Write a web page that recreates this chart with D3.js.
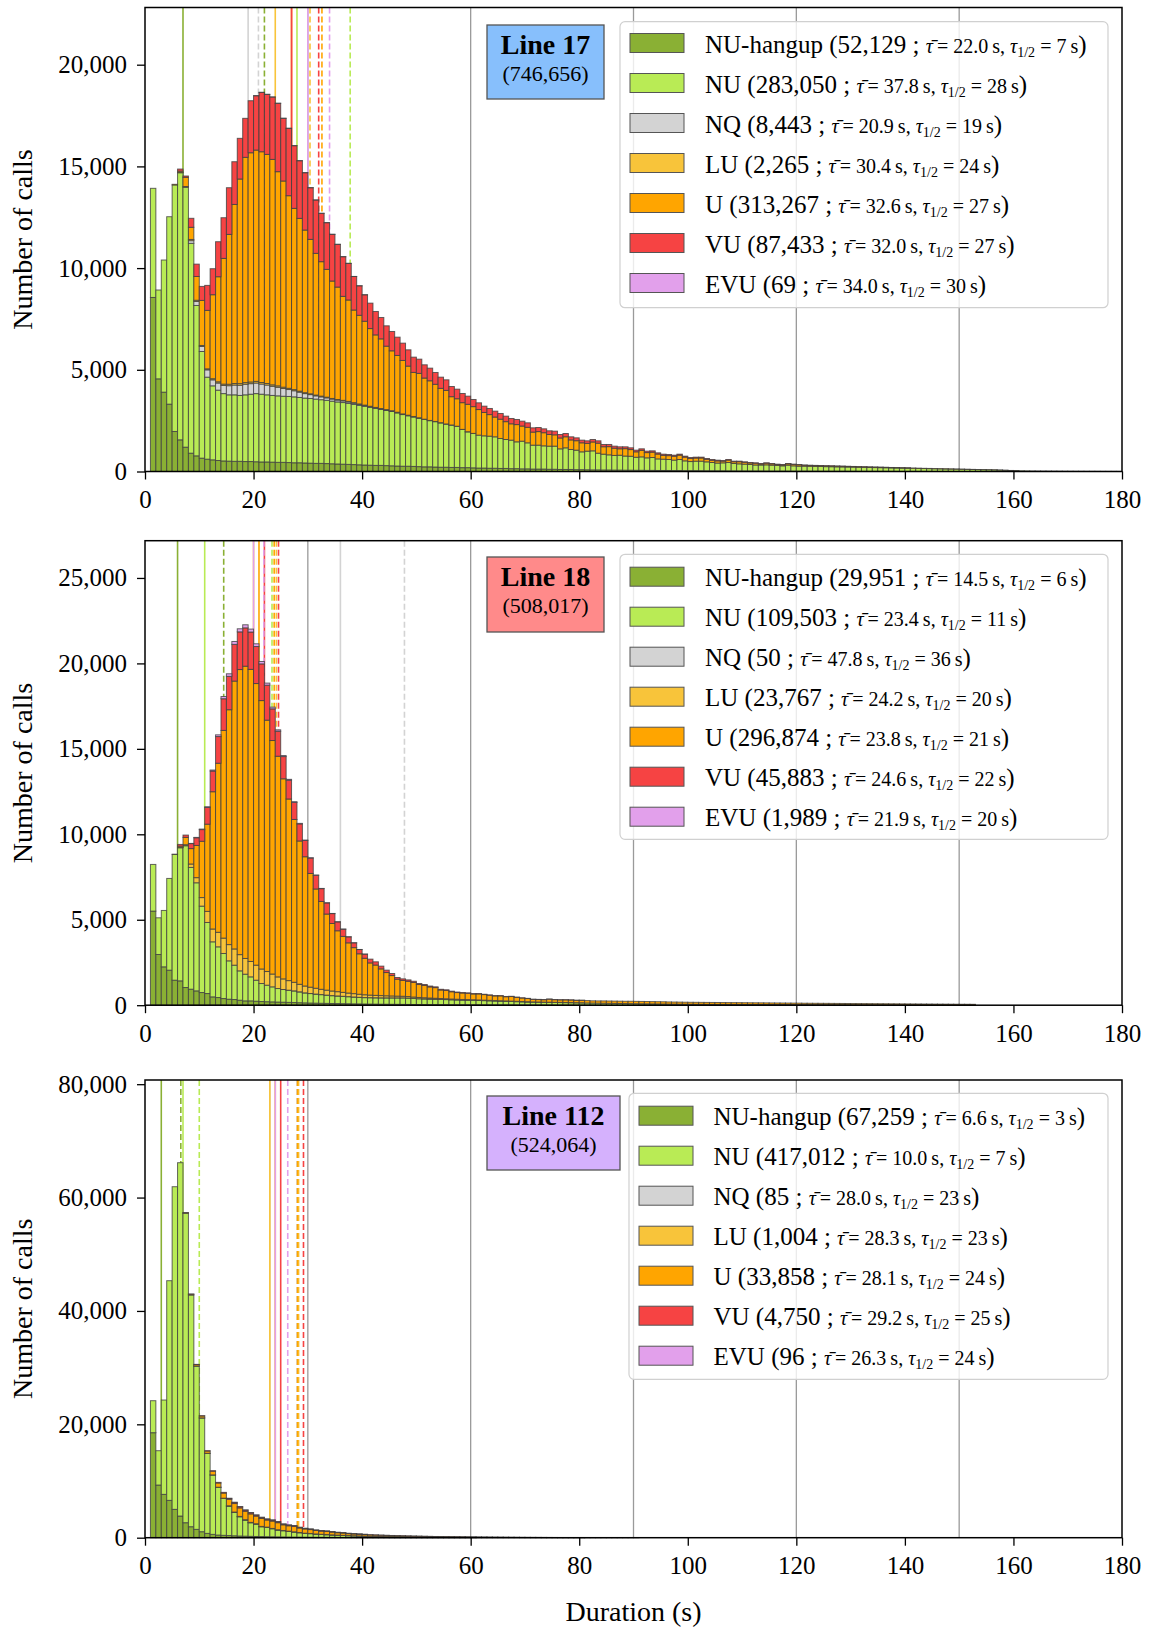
<!DOCTYPE html>
<html><head><meta charset="utf-8">
<script src="https://cdn.jsdelivr.net/npm/d3@7"></script>
<style>
body{margin:0;background:#fff}
svg{display:block}
text{font-family:"Liberation Serif","Times New Roman",serif;fill:#000}
</style>
</head><body>
<svg id="chart" width="1151" height="1630"></svg>
<script>
// ---------------- DATA ----------------
const categories = ["NU-hangup","NU","NQ","LU","U","VU","EVU"];
const seriesColors = ["#8ab034","#b9eb55","#d3d3d3","#f8c43a","#ffa500","#f64343","#e2a0eb"];
const firstBin = 1;               // first histogram bin is [1 s, 2 s)
const xTicks = [0,20,40,60,80,100,120,140,160,180];
const refLines = [30,60,90,120,150];
const lineNames = ["Line 17","Line 18","Line 112"];
const lineTotals = [746656,508017,524064];
const lineBoxColors = ["#87bffc","#ff8a8a","#d5b1fd"];

// Line 17
const l17_counts  = [52129,283050,8443,2265,313267,87433,69];
const l17_means   = [22.0,37.8,20.9,30.4,32.6,32.0,34.0];
const l17_medians = [7,28,19,24,27,27,30];
const l17_yticks  = [0,5000,10000,15000,20000];
const l17_hangup = [8556,4556,3900,3311,1967,1557,1196,901,770,656,606,574,541,520,510,500,500,490,490,480,
470,470,460,450,450,440,430,430,420,410,400,400,390,380,370,360,350,340,330,320,
310,300,300,290,280,270,260,260,250,240,230,230,220,210,210,200,200,190,190,180,
170,170,160,160,150,150,140,140,130,130,120,120,120,110,110,100,100,100,90,90,
85,80,80,75,75,70,70,65,65,60,60,55,55,50,50,50,45,45,40,40,
40,38,36,35,34,32,30,30,28,27,26,25,24,22,21,20,20,19,18,17,
17,16,15,14,14,13,12,12,11,10,9,9,8,8,7,7,6,6,5,5,
5,4,4,4,3,3,3,2,2,2];
const l17_nu = [5366,4367,6497,9215,12122,13132,12775,10317,7392,5244,4032,3638,3459,3310,3260,3270,3240,3280,3310,3350,
3330,3300,3280,3270,3250,3250,3240,3210,3190,3180,3160,3130,3110,3080,3050,3030,3000,2960,2920,2880,
2840,2800,2750,2710,2670,2610,2540,2480,2430,2380,2330,2270,2230,2180,2120,2080,2020,1875,1760,1688,
1617,1584,1577,1545,1473,1423,1401,1319,1361,1280,1175,1175,1142,1136,1136,1015,1064,982,959,877,
915,936,820,777,745,720,730,695,685,640,660,617,633,570,556,540,515,545,484,450,
468,470,439,408,381,394,413,363,349,334,318,295,296,306,290,275,259,292,261,245,
245,239,235,232,226,223,218,214,209,205,200,196,191,186,182,177,172,167,162,157,
152,147,142,137,132,127,122,117,112,107,103,98,93,88,83,78,68,58,48,40,
35,30,26,24,22,20,18,16,14,12,11,10,9,8,7,6,5,5,4];
const l17_nq = [0,0,0,0,0,0,0,131,197,246,360,295,350,400,450,480,500,520,520,520,
500,480,450,420,380,340,300,260,220,190,160,140,120,100,90,80,70,60,50,45,
40,35,30,28,25,22,20,18,16,14,12,11,10,9,8,7,6,6,5,5];
const l17_lu = [0,0,0,0,0,20,40,60,60,50,50,55,60,65,70,75,80,80,80,80,
75,75,70,70,65,60,55,50,45,40,38,36,34,32,30,28,26,24,22,20,
18,16,15,14,13,12,11,10,9,8];
const l17_u = [0,0,0,0,30,60,451,597,1169,2216,2873,4130,5166,6182,7367,8805,10060,11075,11272,11372,
11346,11265,11084,10531,10137,9470,8912,8494,7995,7592,6967,6610,6283,5772,5527,5112,4986,4554,4357,4122,
3819,3566,3427,3120,2946,2791,2629,2414,2167,2181,2023,1950,1828,1689,1649,1392,1352,1314,1349,1317,
1259,1148,1061,972,949,878,805,848,744,763,642,668,646,574,557,534,544,473,466,444,
383,437,493,366,403,356,318,363,329,269,320,258,263,238,188,191,191,212,182,153,
155,157,126,111,108,83,117,87,105,90,77,85,53,79,64,49,49,67,68,69,
45,42,40,38,36,34,32,30,28,26,24,22,20,19,18,17,16,15,14,13,
12,11,10,10,9,9,8,8,7,7,6,6,5,5,5,4,4,4,3,3];
const l17_vu = [0,0,0,0,0,100,65,442,607,688,1229,1278,1721,2000,2295,2100,2000,1918,2557,2672,
2917,2950,3065,3360,3081,3311,3081,2835,2819,2540,2622,2376,2295,2295,2100,1950,1800,1650,1450,1300,
1250,1150,1050,1000,950,900,850,800,750,700,650,620,580,550,520,500,470,450,400,350,
330,310,300,290,280,270,260,250,240,220,210,200,190,180,180,170,160,150,140,130,
125,120,115,110,105,100,95,90,85,80,75,70,65,60,58,55,52,50,48,45,
42,40,38,36,34,32,30,28,26,24,22,21,20,19,18,17,16,15,14,13,
12,11,10,10,9,9,8,8,7,7,6,6,5,5,5,4,4,4,3,3];
const l17_evu = [0,0,0,0,0,0,0,0,0,0,0,0,0,0,0,0,0,0,0,2,
3,3,4,4,4,4,3,3,3,3,3,2,2,2,2,2,2,1,1,1];

// Line 18
const l18_counts  = [29951,109503,50,23767,296874,45883,1989];
const l18_means   = [14.5,23.4,47.8,24.2,23.8,24.6,21.9];
const l18_medians = [6,11,36,20,21,22,20];
const l18_yticks  = [0,5000,10000,15000,20000,25000];
const l18_hangup = [5505,2967,2245,2050,1464,1425,1035,937,839,742,683,488,449,390,351,332,293,254,254,234,
215,205,195,185,176,166,156,146,137,127,120,113,107,100,95,90,85,80,76,72,
68,64,60,57,54,51,48,45,42,40,38,36,34,32,30,28,26,25,24,23,
22,21,20,19,18,17,16,15,14,13,12,12,11,11,10,10,9,9,8,8,
7,7,7,6,6,6,5,5,5,5,4,4,4,4,3,3,3,3,3,3];
const l18_nu = [2732,2147,3299,5368,7359,7788,8296,7125,6325,5055,4158,3221,2967,2636,2245,2010,1717,1561,1405,1230,
1054,966,879,791,742,712,683,635,585,556,530,507,483,460,445,430,415,400,384,373,
372,371,370,373,376,379,382,375,358,340,332,324,316,308,300,292,284,275,271,267,
258,249,240,231,222,213,204,195,186,177,168,163,159,154,150,145,141,136,132,127,
123,118,113,109,104,99,95,91,87,83,80,76,73,70,68,65,62,59,57,55,
56,54,52,50,49,48,47,46,45,44,43,42,41,40,39,38,37,36,35,34,
33,32,31,30,29,28,27,26,25,24,23,22,21,20,19,18,17,16,15,14,
13,12,11,10,9,8,7,6,5,4,3,2];
const l18_nq = [0,0,0,0,0,0,0,0,0,0,0,0,0,0,0,0,0,0,0,0,
0,0,0,0,1,1,1,2,1,1,2,1,1,1,2,1,1,2,1,1,
1,1,2,1,1,1,1,1,1,1,1,1,1,1,1,1,1,1,1,1,
1,1,1,1,1,1,1,1,1,1];
const l18_lu = [0,0,0,0,10,20,60,200,300,500,650,750,850,900,950,950,950,920,900,880,
850,800,750,680,620,560,500,440,400,370,340,310,290,270,250,230,210,195,180,165,
150,140,130,120,110,100,92,85,78,72,66,60,55,50,46,42,38,35,32,30,
28,26,24,22,20,19,18,17,16,15,14,13,12,11,10,10,9,9,8,8];
const l18_u = [0,0,0,0,0,75,427,902,1885,3297,5102,8033,9893,12153,13744,15674,16681,17101,17092,16478,
15706,14707,13664,12913,11710,10627,9528,8387,7565,6655,5808,5140,4453,3950,3564,3276,2938,2692,2368,2135,
1884,1773,1564,1360,1194,990,928,895,852,757,719,650,624,500,488,425,392,378,368,337,
351,325,299,272,285,247,269,231,203,185,146,143,139,176,152,148,154,150,136,142,
140,130,130,135,135,135,135,134,138,137,136,135,133,131,129,122,120,118,115,112,
112,111,110,110,109,107,105,104,103,101,99,98,97,95,93,92,91,89,87,86,
82,81,80,79,78,77,76,75,74,72,71,70,69,68,67,66,65,64,63,62,
61,60,59,58,57,56,55,54,53,52,51,50];
const l18_vu = [0,0,0,0,0,100,137,293,450,683,976,1210,1561,1854,1952,2147,2205,2244,2186,2166,
2147,2049,1854,1464,1300,1100,1000,1000,950,900,800,750,650,580,520,420,350,280,250,240,
220,190,160,140,120,100,90,80,70,60,55,50,45,40,36,33,30,27,25,23,
21,19,17,16,15,14,13,12,11,10,10,9,9,8,8,7,7,6,6,5];
const l18_evu = [0,0,0,0,0,0,0,10,20,30,45,60,100,130,150,170,180,180,170,160,
140,120,100,80,60,50,40,30,25,20,15,12,10,8,6,5,4,3,2,2];

// Line 112
const l112_counts  = [67259,417012,85,1004,33858,4750,96];
const l112_means   = [6.6,10.0,28.0,28.3,28.1,29.2,26.3];
const l112_medians = [3,7,23,23,24,25,24];
const l112_yticks  = [0,20000,40000,60000,80000];
const l112_hangup = [18522,9290,7644,6586,4998,3822,2646,1940,1470,1058,764,588,470,420,380,340,300,270,240,215,
195,175,160,145,130,118,107,97,88,80,72,65,59,53,48,43,39,35,32,29,
26,23,21,19,17,15,14,13,12,11,10,9,8,7,7,6,6,5,5,4];
const l112_nu = [5645,6057,16640,38749,56918,62328,54594,40870,28806,20063,14113,10467,8409,6519,5206,4129,3404,2846,2406,2196,
1745,1648,1428,1207,1105,999,893,785,676,640,568,515,471,427,392,357,321,295,268,241,
214,202,189,176,165,155,144,134,125,117,109,102,95,89,83,78,72,68,63,60,
60,56,52,48,45,42,39,36,34,32,30,28,26,24,22,20,19,18,17,16,
15,14,13,12,11,10,9,8,7,6];
const l112_nq = [0,0,0,0,0,0,0,0,0,0,0,0,0,0,2,3,3,4,4,4,
4,4,4,4,4,4,4,4,4,3,3,3,3,3,3,2,2,2,2,2];
const l112_lu = [0,0,0,0,0,0,0,0,10,15,15,24,27,33,42,54,54,54,54,47,
50,45,46,45,36,34,34,29,27,24,22,20,20,18,15,15,12,11,11,10,
8,8,7,7,6,6,6,5,4,4,4,4,3,3,3,3,3,2,2,2];
const l112_u = [0,0,0,0,0,0,80,150,255,340,400,650,750,900,1150,1500,1500,1500,1500,1350,
1400,1250,1300,1250,1000,950,950,800,750,688,605,557,549,491,426,410,343,320,295,270,
247,230,213,196,179,166,153,140,128,119,110,102,94,85,78,72,66,61,56,51,
47,43,39,36,32,30,27,25,22,20,19,17,15,14,13,12,11,10,9,8];
const l112_vu = [0,0,0,0,0,0,10,20,35,45,55,90,105,125,160,210,210,210,210,190,
197,175,182,175,140,133,133,112,105,97,85,78,77,69,60,57,49,45,41,38,
35,32,30,27,25,23,21,20,18,17,16,14,13,12,11,10,9,9,8,7,
7,6,6,5,5,4,4,4,3,3,3,3,2,2,2,2,2,2,1,1];
const l112_evu = [0,0,0,0,0,0,0,0,0,0,0,0,0,0,2,3,4,5,5,6,
6,6,6,6,5,5,5,4,4,4,3,3,3,2,2,2,2,1,1,1];

// ---------------- LAYOUT ----------------
const panels = [
  {series:[l17_hangup,l17_nu,l17_nq,l17_lu,l17_u,l17_vu,l17_evu], counts:l17_counts, means:l17_means, medians:l17_medians, yticks:l17_yticks,
   top:7.5, bottom:471.5, ymax:22812,
   lbox:{x:487,y:25,w:117,h:74}, leg:{x:620,y:21.7,w:488,h:286,sw:630,tx:705,row0:43}},
  {series:[l18_hangup,l18_nu,l18_nq,l18_lu,l18_u,l18_vu,l18_evu], counts:l18_counts, means:l18_means, medians:l18_medians, yticks:l18_yticks,
   top:540.7, bottom:1005.2, ymax:27180,
   lbox:{x:487,y:557,w:117,h:75}, leg:{x:620,y:554.3,w:488,h:285,sw:630,tx:705,row0:576.7}},
  {series:[l112_hangup,l112_nu,l112_nq,l112_lu,l112_u,l112_vu,l112_evu], counts:l112_counts, means:l112_means, medians:l112_medians, yticks:l112_yticks,
   top:1080, bottom:1537.7, ymax:80740,
   lbox:{x:487,y:1096,w:133,h:74}, leg:{x:629,y:1093.3,w:479,h:286,sw:639,tx:713.5,row0:1115.7}}
];

const svg = d3.select("#chart");
const X0 = 145, X1 = 1122;
const x = d3.scaleLinear().domain([0,180]).range([X0,X1]);
const fmt = d3.format(",");

panels.forEach((p, pi) => {
  const y = d3.scaleLinear().domain([0,p.ymax]).range([p.bottom,p.top]);
  const g = svg.append("g");
  const n = d3.max(p.series, s => s.length);
  const rows = d3.range(n).map(i => {
    const r = {bin: firstBin + i};
    categories.forEach((c, ci) => r[c] = p.series[ci][i] || 0);
    return r;
  });
  const stacked = d3.stack().keys(categories)(rows);

  // reference lines
  g.selectAll(".ref").data(refLines).join("line")
    .attr("x1", d => x(d)).attr("x2", d => x(d))
    .attr("y1", p.top).attr("y2", p.bottom)
    .attr("stroke", "#9a9a9a").attr("stroke-width", 1.3);

  // median (solid) and mean (dashed) lines
  categories.forEach((c, ci) => {
    g.append("line")
      .attr("x1", x(p.medians[ci])).attr("x2", x(p.medians[ci]))
      .attr("y1", p.top).attr("y2", p.bottom)
      .attr("stroke", seriesColors[ci]).attr("stroke-width", 1.6);
    g.append("line")
      .attr("x1", x(p.means[ci])).attr("x2", x(p.means[ci]))
      .attr("y1", p.top).attr("y2", p.bottom)
      .attr("stroke", seriesColors[ci]).attr("stroke-width", 1.6)
      .attr("stroke-dasharray", "6,3");
  });

  // bars
  stacked.forEach((layer, li) => {
    g.append("g").selectAll("rect")
      .data(layer.filter(d => d[1] - d[0] > 0))
      .join("rect")
      .attr("x", d => x(d.data.bin))
      .attr("width", d => x(d.data.bin + 1) - x(d.data.bin))
      .attr("y", d => y(d[1]))
      .attr("height", d => y(d[0]) - y(d[1]))
      .attr("fill", seriesColors[li])
      .attr("stroke", "#404040").attr("stroke-width", 1).attr("stroke-opacity", 0.8);
  });

  // axes
  const ya = g.append("g").attr("transform", `translate(${X0},0)`)
    .call(d3.axisLeft(y).tickValues(p.yticks).tickFormat(fmt).tickSize(8).tickPadding(10));
  const xa = g.append("g").attr("transform", `translate(0,${p.bottom})`)
    .call(d3.axisBottom(x).tickValues(xTicks).tickSize(8).tickPadding(11));
  [ya, xa].forEach(a => {
    a.select(".domain").remove();
    a.selectAll(".tick line").attr("stroke", "#000").attr("stroke-width", 1.3);
    a.selectAll(".tick text").attr("font-size", 25).attr("font-family", '"Liberation Serif",serif').attr("fill", "#000");
  });

  // frame
  g.append("rect").attr("x", X0).attr("y", p.top).attr("width", X1 - X0).attr("height", p.bottom - p.top)
    .attr("fill", "none").attr("stroke", "#000").attr("stroke-width", 1.5);

  // y label
  g.append("text")
    .attr("transform", `translate(32,${(p.top + p.bottom) / 2}) rotate(-90)`)
    .attr("text-anchor", "middle").attr("font-size", 28).text("Number of calls");

  // line label box
  const lb = p.lbox;
  g.append("rect").attr("x", lb.x).attr("y", lb.y).attr("width", lb.w).attr("height", lb.h)
    .attr("fill", lineBoxColors[pi]).attr("stroke", "#555").attr("stroke-width", 1.3);
  g.append("text").attr("x", lb.x + lb.w / 2).attr("y", lb.y + 29).attr("text-anchor", "middle")
    .attr("font-size", 28).attr("font-weight", "bold").text(lineNames[pi]);
  g.append("text").attr("x", lb.x + lb.w / 2).attr("y", lb.y + 56).attr("text-anchor", "middle")
    .attr("font-size", 22).text(`(${fmt(lineTotals[pi])})`);

  // legend
  const L = p.leg;
  const lg = g.append("g");
  lg.append("rect").attr("x", L.x).attr("y", L.y).attr("width", L.w).attr("height", L.h)
    .attr("rx", 5).attr("fill", "#fff").attr("fill-opacity", 0.8)
    .attr("stroke", "#d0d0d0").attr("stroke-width", 1.2);
  categories.forEach((c, ci) => {
    const cy = L.row0 + ci * 40;
    lg.append("rect").attr("x", L.sw).attr("y", cy - 9.5).attr("width", 54).attr("height", 19)
      .attr("fill", seriesColors[ci]).attr("stroke", "#555").attr("stroke-width", 1);
    const t = lg.append("text").attr("x", L.tx).attr("y", cy + 9.5).attr("font-size", 25);
    t.append("tspan").text(`${c} (${fmt(p.counts[ci])} ; `);
    t.append("tspan").attr("font-size", 20).attr("font-style", "italic").text("\u03C4\u0304");
    t.append("tspan").attr("font-size", 20).attr("dx", 4).text(`= ${p.means[ci].toFixed(1)}\u2009s, `);
    t.append("tspan").attr("font-size", 20).attr("font-style", "italic").text("\u03C4");
    t.append("tspan").attr("font-size", 14).attr("dy", 4).text("1/2");
    t.append("tspan").attr("font-size", 20).attr("dy", -4).text(` = ${p.medians[ci]}\u2009s`);
    t.append("tspan").attr("font-size", 25).text(")");
  });
});

// x label
svg.append("text").attr("x", (X0 + X1) / 2).attr("y", 1621).attr("text-anchor", "middle")
  .attr("font-size", 28).text("Duration (s)");
</script>
</body></html>
